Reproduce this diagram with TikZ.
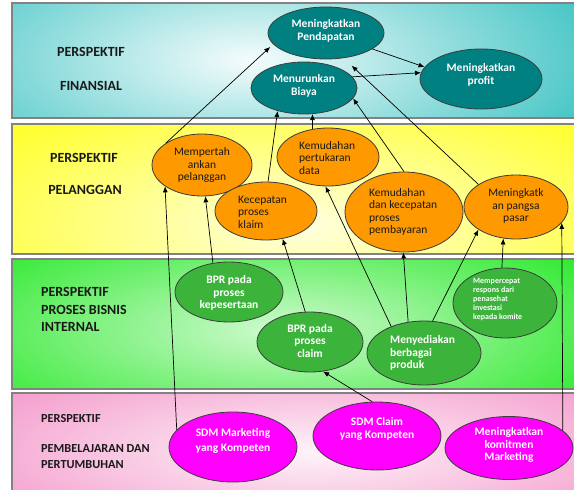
\documentclass[tikz,border=0pt]{standalone}
\usepackage{fontspec}
\setmainfont{Carlito}
\usetikzlibrary{shapes.geometric,arrows.meta}

\definecolor{bandteal}{RGB}{60,194,194}
\definecolor{bandyellow}{RGB}{255,255,0}
\definecolor{bandgreen}{RGB}{20,230,20}
\definecolor{bandpink}{RGB}{242,136,194}
\definecolor{bandline}{RGB}{130,130,130}
\definecolor{ellteal}{RGB}{0,128,128}
\definecolor{ellorange}{RGB}{255,153,0}
\definecolor{ellgreen}{RGB}{60,180,60}
\definecolor{ellpink}{RGB}{255,0,255}
\definecolor{ellline}{RGB}{60,60,60}
\definecolor{labeltext}{RGB}{25,25,25}

\begin{document}
\begin{tikzpicture}[x=1pt,y=-1pt,
  band/.style={draw=bandline, line width=1.4pt},
  ell/.style={ellipse, draw=ellline, line width=0.8pt, inner sep=0pt},
  finell/.style={ell, fill=ellteal},
  custell/.style={ell, fill=ellorange},
  procell/.style={ell, fill=ellgreen},
  learnell/.style={ell, fill=ellpink},
  wtxt/.style={text=white, font=\fontsize{11.5}{12.8}\selectfont\bfseries, align=center, inner sep=0pt},
  otxt/.style={text=labeltext, font=\fontsize{11.5}{12.4}\selectfont, align=center, inner sep=0pt},
  lbl/.style={text=labeltext, font=\fontsize{14}{16}\selectfont\bfseries, inner sep=0pt},
  lblsmall/.style={text=labeltext, font=\fontsize{12.3}{14}\selectfont\bfseries, inner sep=0pt, anchor=west},
  conn/.style={line width=0.7pt, -{Latex[length=6pt,width=5pt]}},
]
\useasboundingbox (0,0) rectangle (574,490);

% ---------- perspective bands ----------
\begin{scope}
  \clip (12,3) rectangle (576,118);
  \fill[bandteal] (12,3) rectangle (576,118);
  \shade[inner color=bandteal!5!white, outer color=bandteal] (250,60) ellipse (380pt and 150pt);
\end{scope}
\draw[band] (12,3) rectangle (576,118);

\begin{scope}
  \clip (12,124) rectangle (576,254);
  \fill[bandyellow] (12,124) rectangle (576,254);
  \shade[inner color=bandyellow!12!white, outer color=bandyellow] (300,225) ellipse (480pt and 180pt);
\end{scope}
\draw[band] (12,124) rectangle (576,254);

\begin{scope}
  \clip (12,259) rectangle (576,389);
  \fill[bandgreen] (12,259) rectangle (576,389);
  \shade[inner color=bandgreen!20!white, outer color=bandgreen] (280,330) ellipse (440pt and 140pt);
\end{scope}
\draw[band] (12,259) rectangle (576,389);

\begin{scope}
  \clip (12,393) rectangle (576,493);
  \fill[bandpink] (12,393) rectangle (576,493);
  \shade[inner color=bandpink!10!white, outer color=bandpink] (310,452) ellipse (480pt and 120pt);
\end{scope}
\draw[band] (12,393) rectangle (576,493);

% ---------- band titles ----------
\node[lbl] (t-fin1) at (91,52) {PERSPEKTIF};
\node[lbl] (t-fin2) at (91,86) {FINANSIAL};
\node[lbl] (t-cus1) at (84,158) {PERSPEKTIF};
\node[lbl] (t-cus2) at (85,190) {PELANGGAN};
\node[lbl, anchor=west] (t-pro1) at (41,292) {PERSPEKTIF};
\node[lbl, anchor=west] (t-pro2) at (41,310) {PROSES BISNIS};
\node[lbl, anchor=west] (t-pro3) at (41,327) {INTERNAL};
\node[lblsmall] (t-lea1) at (41,419) {PERSPEKTIF};
\node[lblsmall] (t-lea2) at (41,449) {PEMBELAJARAN DAN};
\node[lblsmall] (t-lea3) at (41,465) {PERTUMBUHAN};

% ---------- financial objectives ----------
\node[finell, minimum width=116pt, minimum height=52pt] (pend) at (326,33) {};
\node[finell, minimum width=106pt, minimum height=52pt] (biaya) at (304,88) {};
\node[finell, minimum width=122pt, minimum height=60pt] (profit) at (481,79) {};
\node[wtxt] (pend-t) at (326,31) {Meningkatkan\\Pendapatan};
\node[wtxt] (biaya-t) at (304,86) {Menurunkan\\Biaya};
\node[wtxt] (profit-t) at (481,75) {Meningkatkan\\profit};

% ---------- customer objectives ----------
\node[custell, minimum width=100pt, minimum height=62pt] (mem) at (202,165) {};
\node[custell, minimum width=102pt, minimum height=58pt] (data) at (328,157) {};
\node[custell, minimum width=102pt, minimum height=58pt] (kec) at (266,211) {};
\node[custell, minimum width=118pt, minimum height=80pt] (bayar) at (404,212) {};
\node[custell, minimum width=104pt, minimum height=64pt] (pasar) at (516,207) {};
\node[otxt] (mem-t) at (202,165) {Mempertah\\ankan\\pelanggan};
\node[otxt, align=left, anchor=west] (data-t) at (299,158) {Kemudahan\\pertukaran\\data};
\node[otxt, align=left, anchor=west] (kec-t) at (238,212) {Kecepatan\\proses\\klaim};
\node[otxt, align=left, anchor=west] (bayar-t) at (369,212) {Kemudahan\\dan kecepatan\\proses\\pembayaran};
\node[otxt] (pasar-t) at (516,206) {Meningkatk\\an pangsa\\pasar};

% ---------- internal process objectives ----------
\node[procell, minimum width=108pt, minimum height=60pt] (bprk) at (229,292) {};
\node[procell, minimum width=106pt, minimum height=60pt] (bprc) at (310,342) {};
\node[procell, minimum width=114pt, minimum height=64pt] (sedia) at (424,353) {};
\node[procell, minimum width=104pt, minimum height=70pt] (cepat) at (505,303) {};
\node[wtxt] (bprk-t) at (229,293) {BPR pada\\proses\\kepesertaan};
\node[wtxt] (bprc-t) at (310,341) {BPR pada\\proses\\claim};
\node[wtxt, align=left, anchor=west] (sedia-t) at (390,353) {Menyediakan\\berbagai\\produk};
\node[wtxt, align=left, anchor=west, font=\fontsize{8}{9}\selectfont\bfseries] (cepat-t) at (473,300)
  {Mempercepat\\respons dari\\penasehat\\investasi\\kepada komite};

% ---------- learning and growth objectives ----------
\node[learnell, minimum width=128pt, minimum height=70pt] (sdmm) at (233,447) {};
\node[learnell, minimum width=128pt, minimum height=68pt] (sdmc) at (377,436) {};
\node[learnell, minimum width=128pt, minimum height=63pt] (komit) at (509,448) {};
\node[wtxt, font=\fontsize{11.5}{15}\selectfont\bfseries] (sdmm-t) at (233,441) {SDM Marketing\\yang Kompeten};
\node[wtxt, font=\fontsize{11.5}{13.5}\selectfont\bfseries] (sdmc-t) at (377,429) {SDM Claim\\yang Kompeten};
\node[wtxt] (komit-t) at (509,445) {Meningkatkan\\komitmen\\Marketing};

% ---------- cause and effect links ----------
\draw[conn, shorten >=4pt] (mem.149) -- (pend.192);
\draw[conn] (kec.86) -- (biaya.221);
\draw[conn] (data.119) -- (biaya.288);
\draw[conn] (bayar.90) -- (biaya.348);
\draw[conn, shorten >=11pt] (pasar.149) -- (pend.305);
\draw[conn] (pend.341) -- (profit.168);
\draw[conn] (biaya.13) -- (profit.174);

\draw[conn] (bprk.119) -- (mem.276);
\draw[conn] (bprc.99) -- (kec.301);
\draw[conn] (sedia.141) -- (data.265);
\draw[conn] (sedia.117) -- (bayar.269);
\draw[conn] (sedia.75) -- (pasar.211);
\draw[conn] (cepat.95) -- (pasar.248);

\draw[conn] (komit.18.5) -- (pasar.341);
\draw[conn] (sdmm.163) -- (mem.210);
\draw[conn] (sdmc.98) -- (bprc.294);
\end{tikzpicture}
\end{document}
